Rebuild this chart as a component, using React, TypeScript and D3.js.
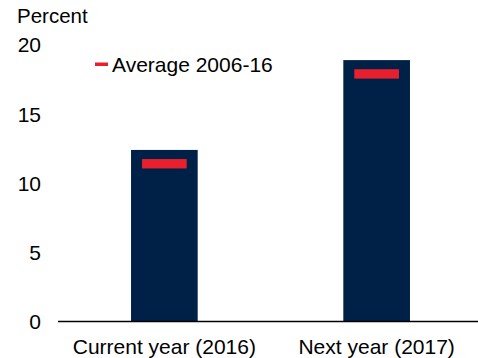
import React from "react";
import * as d3 from "d3";

const categories = ["Current year (2016)", "Next year (2017)"];
const values = [12.4, 18.9];
const averages = [11.4, 17.9];
const yTicks = [0, 5, 10, 15, 20];
const legendLabel = "Average 2006-16";
const yTitle = "Percent";

const W = 478;
const H = 358;
const FONT = "'Liberation Sans', Arial, sans-serif";
const NAVY = "#002147";
const RED = "#e8202e";

export default function App() {
  const y = d3.scaleLinear().domain([0, 20]).range([321.3, 44.9]);
  const x = d3
    .scaleBand<string>()
    .domain(categories)
    .range([58, 483])
    .paddingInner(0.686)
    .paddingOuter(0.344);
  const bw = x.bandwidth();
  const mw = bw * 0.67;
  const mh = 9.4;

  return (
    <svg
      width={W}
      height={H}
      style={{ position: "absolute", left: 0, top: 0, display: "block" }}
      fontFamily={FONT}
    >
      <rect x={0} y={0} width={W} height={H} fill="#fff" />
      <text x={17} y={23} fontSize={20.5} fill="#000">
        {yTitle}
      </text>
      {yTicks.map((t) => (
        <text
          key={t}
          x={41}
          y={y(t)}
          dy="0.36em"
          textAnchor="end"
          fontSize={21}
          fill="#000"
        >
          {t}
        </text>
      ))}
      {categories.map((c, i) => (
        <g key={c}>
          <rect
            x={x(c)}
            y={y(values[i])}
            width={bw}
            height={y(0) - y(values[i])}
            fill={NAVY}
          />
          <rect
            x={(x(c) as number) + (bw - mw) / 2}
            y={y(averages[i]) - mh / 2}
            width={mw}
            height={mh}
            fill={RED}
          />
          <text
            x={(x(c) as number) + bw / 2}
            y={354}
            textAnchor="middle"
            fontSize={21}
            fill="#000"
          >
            {c}
          </text>
        </g>
      ))}
      <line x1={58} x2={478} y1={321.5} y2={321.5} stroke="#000" strokeWidth={1.5} />
      <rect x={95} y={62.5} width={13} height={3.5} fill={RED} />
      <text x={112} y={64} dy="0.36em" fontSize={21} fill="#000">
        {legendLabel}
      </text>
    </svg>
  );
}
